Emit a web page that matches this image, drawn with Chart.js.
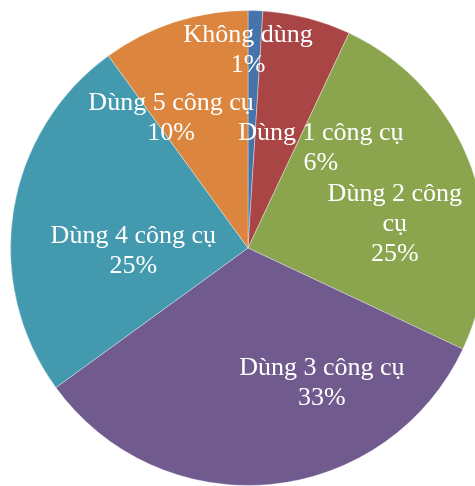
<!DOCTYPE html>
<html>
<head>
<meta charset="utf-8">
<script src="https://cdn.jsdelivr.net/npm/chart.js@4"></script>
<style>
  html, body { margin: 0; padding: 0; background: #ffffff; overflow: hidden; }
  body { width: 475px; height: 486px; position: relative; }
  #wrap { position: absolute; left: 0; top: 0; width: 496px; height: 496px; }
</style>
</head>
<body>
<div id="wrap"><canvas id="chart"></canvas></div>
<script>
// Share of respondents by number of tools used
const categories = ['Không dùng', 'Dùng 1 công cụ', 'Dùng 2 công cụ', 'Dùng 3 công cụ', 'Dùng 4 công cụ', 'Dùng 5 công cụ'];
const shares = [1, 6, 25, 33, 25, 10];
const sliceColors = ['#4674aa', '#a94645', '#8aa54e', '#715a8e', '#4399ae', '#dc853e'];

// Label anchor (centre of text block) relative to the pie centre, in radii
const labelOffsetX = [0.0, 0.307, 0.618, 0.311, -0.483, -0.324];
const labelOffsetY = [-0.845, -0.431, -0.113, 0.557, 0.0, -0.561];
// Max width before a label wraps (0 = no wrap)
const labelWrap = [0, 0, 140, 0, 0, 0];

function wrapText(ctx, text, maxW) {
  if (!maxW) return [text];
  const words = text.split(' ');
  const lines = [];
  let cur = '';
  for (const w of words) {
    const test = cur ? cur + ' ' + w : w;
    if (cur && ctx.measureText(test).width > maxW) {
      lines.push(cur);
      cur = w;
    } else {
      cur = test;
    }
  }
  if (cur) lines.push(cur);
  return lines;
}

const sliceLabels = {
  id: 'sliceLabels',
  afterDatasetsDraw(chart) {
    const ctx = chart.ctx;
    const meta = chart.getDatasetMeta(0);
    const values = chart.data.datasets[0].data;
    ctx.save();
    ctx.fillStyle = '#ffffff';
    ctx.font = '26px "Liberation Serif", "Times New Roman", serif';
    ctx.textAlign = 'center';
    ctx.textBaseline = 'middle';
    const lineH = 30;
    const baselineShift = 3;
    meta.data.forEach((arc, i) => {
      const r = arc.outerRadius;
      const cx = arc.x + labelOffsetX[i] * r;
      const cy = arc.y + labelOffsetY[i] * r + baselineShift;
      const lines = wrapText(ctx, chart.data.labels[i], labelWrap[i]);
      lines.push(values[i] + '%');
      const top = cy - (lines.length - 1) * lineH / 2;
      lines.forEach((ln, k) => ctx.fillText(ln, cx, top + k * lineH));
    });
    ctx.restore();
  }
};

new Chart(document.getElementById('chart'), {
  type: 'pie',
  data: {
    labels: categories,
    datasets: [{
      data: shares,
      backgroundColor: sliceColors,
      borderColor: 'rgba(255,255,255,0.35)',
      borderWidth: 1
    }]
  },
  options: {
    responsive: true,
    maintainAspectRatio: false,
    animation: false,
    layout: { padding: 10 },
    plugins: {
      legend: { display: false },
      tooltip: { enabled: false }
    }
  },
  plugins: [sliceLabels]
});
</script>
</body>
</html>
